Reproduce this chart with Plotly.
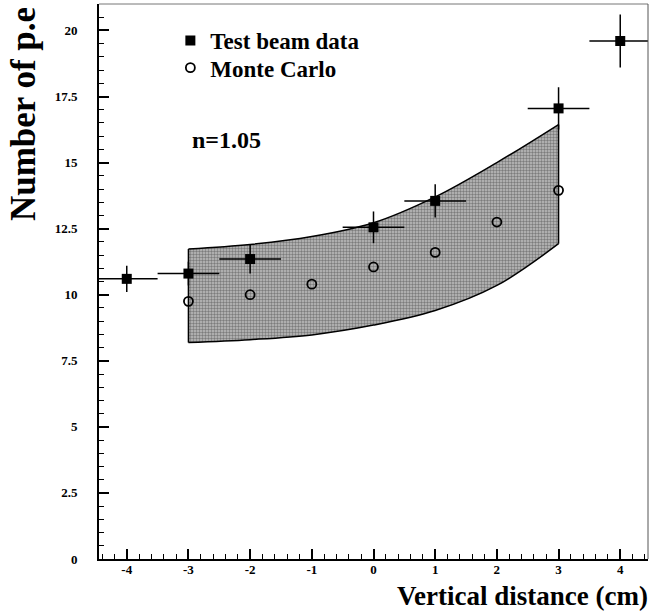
import plotly.graph_objects as go

# Test beam data
tb_x = [-4, -3, -2, 0, 1, 3, 4]
tb_y = [10.6, 10.8, 11.35, 12.55, 13.55, 17.05, 19.6]
tb_ex = [0.5, 0.5, 0.5, 0.5, 0.5, 0.5, 0.5]
tb_ey = [0.5, 0.45, 0.55, 0.6, 0.63, 0.8, 1.0]

# Monte Carlo
mc_x = [-3, -2, -1, 0, 1, 2, 3]
mc_y = [9.75, 10.0, 10.4, 11.05, 11.6, 12.75, 13.95]

# Band (n=1.05)
band_x = [-3, -2, -1, 0, 1, 2, 3]
band_hi = [11.73, 11.9, 12.2, 12.72, 13.7, 15.0, 16.44]
band_lo = [8.19, 8.3, 8.48, 8.85, 9.4, 10.35, 11.93]

x_ticks = [-4, -3, -2, -1, 0, 1, 2, 3, 4]
x_ticktext = ["-4", "-3", "-2", "-1", "0", "1", "2", "3", "4"]
y_ticks = [0, 2.5, 5, 7.5, 10, 12.5, 15, 17.5, 20]
y_ticktext = ["0", "2.5", "5", "7.5", "10", "12.5", "15", "17.5", "20"]

SERIF = "Liberation Serif"

fig = go.Figure()

fig.add_trace(go.Scatter(
    x=band_x, y=band_lo, mode="lines", line=dict(color="black", width=1.5, shape="spline"),
    showlegend=False, hoverinfo="skip"))
fig.add_trace(go.Scatter(
    x=band_x, y=band_hi, mode="lines", line=dict(color="black", width=1.5, shape="spline"),
    fill="tonexty", fillcolor="#a8a8a8",
    fillpattern=dict(shape=".", fgcolor="#3a3a3a", bgcolor="#bebebe", size=3, solidity=0.5),
    showlegend=False, hoverinfo="skip"))
fig.add_trace(go.Scatter(
    x=[band_x[0], band_x[0], None, band_x[-1], band_x[-1]],
    y=[band_lo[0], band_hi[0], None, band_lo[-1], band_hi[-1]],
    mode="lines", line=dict(color="black", width=1.5), showlegend=False, hoverinfo="skip"))

fig.add_trace(go.Scatter(
    x=tb_x, y=tb_y, mode="markers", name="Test beam data", legend="legend",
    marker=dict(symbol="square", size=10, color="black"),
    error_x=dict(type="data", array=tb_ex, color="black", thickness=1.5, width=0),
    error_y=dict(type="data", array=tb_ey, color="black", thickness=1.5, width=0)))
fig.add_trace(go.Scatter(
    x=mc_x, y=mc_y, mode="markers", name="Monte Carlo", legend="legend2",
    marker=dict(symbol="circle-open", size=9, color="black", line=dict(width=1.8, color="black"))))

axis_common = dict(
    showline=True, linecolor="black", linewidth=2, ticks="inside", tickcolor="black",
    tickwidth=1.5, ticklen=10, showgrid=False, zeroline=False, mirror=False, automargin=False,
    tickfont=dict(family=SERIF, size=13, color="black", weight="bold"),
)
fig.update_xaxes(range=[-4.45, 4.45], tickvals=x_ticks, ticktext=x_ticktext,
                 minor=dict(ticks="inside", ticklen=5, tickwidth=1.2, tickcolor="black", dtick=0.2, tick0=0),
                 ticklabelstandoff=-3, **axis_common)
fig.update_yaxes(range=[0, 21], tickvals=y_ticks, ticktext=y_ticktext,
                 minor=dict(ticks="inside", ticklen=5, tickwidth=1.2, tickcolor="black", dtick=0.5, tick0=0),
                 ticklabelstandoff=17, **axis_common)

legend_font = dict(family=SERIF, size=23, color="black", weight="bold")
fig.update_layout(
    width=652, height=612,
    margin=dict(l=99, r=4, t=4, b=53),
    paper_bgcolor="white", plot_bgcolor="white",
    showlegend=True,
    legend=dict(x=0.13, y=0.973, xanchor="left", yanchor="top", bgcolor="rgba(0,0,0,0)",
                font=legend_font, itemwidth=30),
    legend2=dict(x=0.13, y=0.924, xanchor="left", yanchor="top", bgcolor="rgba(0,0,0,0)",
                 font=legend_font, itemwidth=30),
    shapes=[
        dict(type="line", xref="paper", yref="paper", x0=0, x1=1, y0=1, y1=1,
             line=dict(color="#777", width=1)),
        dict(type="line", xref="paper", yref="paper", x0=1, x1=1, y0=0, y1=1,
             line=dict(color="#555", width=1)),
    ],
    annotations=[
        dict(text="<b>n=1.05</b>", xref="paper", yref="paper", x=(190 - 99) / 549, y=(559 - 140) / 555,
             xanchor="left", yanchor="middle", showarrow=False,
             font=dict(family=SERIF, size=24, color="black")),
        dict(text="<b>Vertical distance (cm)</b>", xref="paper", yref="paper", x=(650 - 99) / 549,
             y=(559 - 596) / 555,
             xanchor="right", yanchor="middle", showarrow=False,
             font=dict(family=SERIF, size=27, color="black")),
        dict(text="<b>Number of p.e</b>", xref="paper", yref="paper", x=(23 - 99) / 549, y=0.998,
             xanchor="center", yanchor="top", textangle=-90, showarrow=False,
             font=dict(family=SERIF, size=35, color="black")),
    ],
)

fig.write_html("out.html", config={"displayModeBar": False},
               post_script="document.body.style.margin='0px';")
